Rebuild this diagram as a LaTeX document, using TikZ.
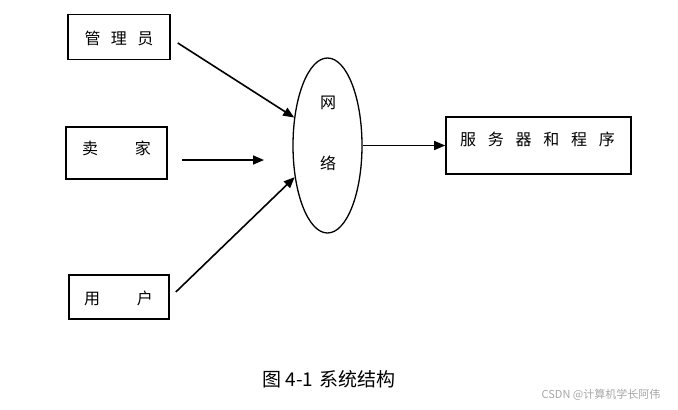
\documentclass[tikz,border=0pt]{standalone}
\usepackage{fontspec}
\newfontfamily\cjk{Noto Sans CJK SC}
\usetikzlibrary{shapes.geometric,arrows.meta}

\begin{document}
\begin{tikzpicture}[x=1pt, y=-1pt,
  box/.style={draw, line width=1.6pt, inner sep=0pt},
  word/.style={font=\cjk\fontsize{16}{16}\selectfont, inner sep=0pt},
  flow/.style={line width=1.6pt, -{Triangle[length=11pt,width=9pt]}},
  net/.style={draw, ellipse, line width=1.3pt, inner sep=0pt,
    minimum width=69pt, minimum height=175pt}
]
  \useasboundingbox (0,0) rectangle (678,410);

  % Users on the left
  \node[box, minimum width=102pt, minimum height=45pt] (admin) at (119,37) {};
  \node[word] (admintxt) at (119,38) {管\hspace{10.5pt}理\hspace{10.5pt}员};

  \node[box, minimum width=101pt, minimum height=52pt] (seller) at (116.5,153) {};
  \node[word] (sellertxt) at (116.5,148) {卖\hspace{37pt}家};

  \node[box, minimum width=100pt, minimum height=44pt] (user) at (119,297) {};
  \node[word] (usertxt) at (118.5,298) {用\hspace{37pt}户};

  % Network in the middle
  \node[net] (net) at (327.5,145.5) {};
  \node[word] (nettop) at (328,103) {网};
  \node[word] (netbot) at (328,163) {络};

  % Server on the right
  \node[box, minimum width=185pt, minimum height=57pt] (server) at (538.5,145.5) {};
  \node[word] (servertxt) at (537.5,139) {服\hspace{11.8pt}务\hspace{11.8pt}器\hspace{11.8pt}和\hspace{11.8pt}程\hspace{11.8pt}序};

  % Connectors
  \coordinate (sellerend) at (264,160);
  \draw[flow] ([shift={(7,6)}]admin.east) -- (net.140);
  \draw[flow] ([shift={(14,7)}]seller.east) -- (sellerend);
  \draw[flow] ([shift={(6,-5)}]user.east) -- (net.224);
  \draw[flow] (net.east) -- (server.west);

  % Caption and mark
  \node[font=\cjk\fontsize{19}{19}\selectfont, inner sep=0pt] (caption) at (329,379) {图 4-1\hspace{6pt}系统结构};
  \node[font=\cjk\fontsize{11}{11}\selectfont, text=black!35, inner sep=0pt] (mark) at (601,395) {CSDN @计算机学长阿伟};
\end{tikzpicture}
\end{document}
